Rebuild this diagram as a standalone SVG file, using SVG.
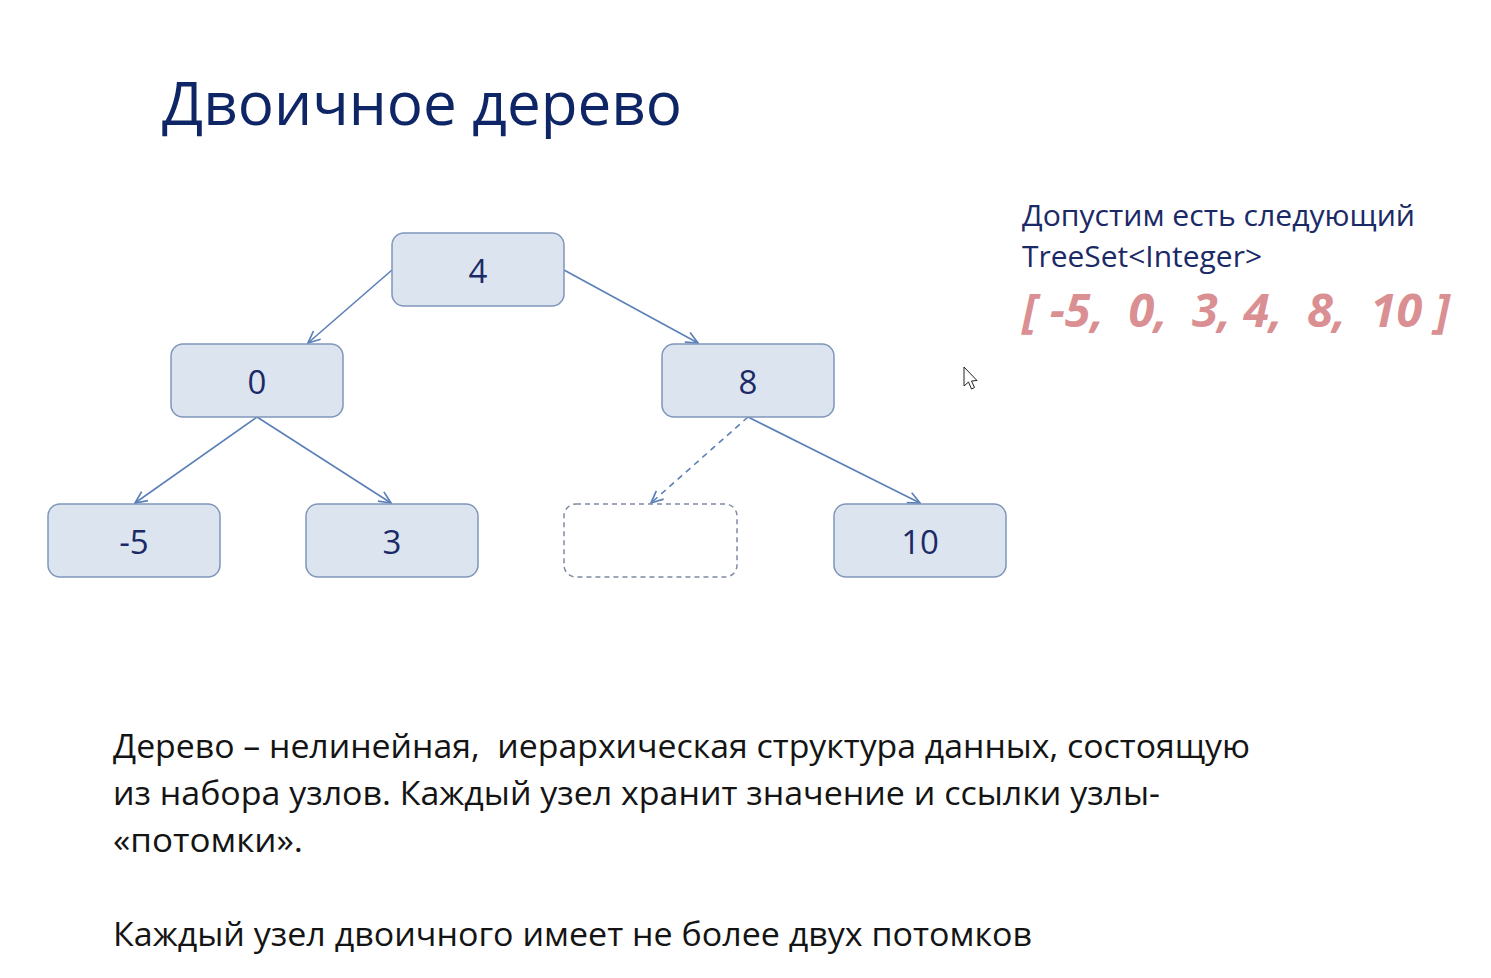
<svg xmlns="http://www.w3.org/2000/svg" width="1491" height="978" viewBox="0 0 1491 978">
  <defs>
    <marker id="arrow" viewBox="0 0 14 14" refX="13" refY="7" markerWidth="14" markerHeight="14" markerUnits="userSpaceOnUse" orient="auto">
      <path d="M1,1.5 L13,7 L1,12.5" fill="none" stroke="#5b7fb8" stroke-width="1.7"/>
    </marker>
  </defs>
  <style>
    .node rect { fill: #dce4ef; stroke: #7f96bb; stroke-width: 1.5; }
    .node.empty rect { fill: none; stroke: #7d8aa3; stroke-dasharray: 5 4; }
    .node text { font-family: "Open Sans", "Noto Sans", sans-serif; font-size: 33px; fill: #1b2a66; text-anchor: middle; }
    .edge { fill: none; stroke: #5b7fb8; stroke-width: 1.6; marker-end: url(#arrow); }
    .edge.dashed { stroke-dasharray: 6 5; }
    .title { font-family: "Open Sans", "Noto Sans", sans-serif; font-size: 61px; font-weight: 500; fill: #0e2566; }
    .note { font-family: "Open Sans", "Noto Sans", sans-serif; font-size: 29px; font-weight: 500; fill: #1b2a66; }
    .list { font-family: "Open Sans", "Noto Sans", sans-serif; font-size: 46px; font-weight: bold; font-style: italic; fill: #da8f93; }
    .body { font-family: "Open Sans", "Noto Sans", sans-serif; font-size: 33px; font-weight: 500; fill: #141414; }
  </style>

  <rect width="1491" height="978" fill="#ffffff"/>

  <text class="title" x="162" y="125" textLength="520" lengthAdjust="spacingAndGlyphs">Двоичное дерево</text>

  <!-- connectors -->
  <g id="edges">
    <line class="edge" x1="392" y1="270" x2="308" y2="343"/>
    <line class="edge" x1="564" y1="270" x2="698" y2="343"/>
    <line class="edge" x1="257" y1="417" x2="135" y2="503"/>
    <line class="edge" x1="257" y1="417" x2="391" y2="503"/>
    <line class="edge dashed" x1="748" y1="417" x2="651" y2="503"/>
    <line class="edge" x1="748" y1="417" x2="920" y2="503"/>
  </g>

  <!-- tree nodes -->
  <g id="node-4" class="node">
    <rect x="392" y="233" width="172" height="73" rx="12"/>
    <text x="478" y="283">4</text>
  </g>
  <g id="node-0" class="node">
    <rect x="171" y="344" width="172" height="73" rx="12"/>
    <text x="257" y="394">0</text>
  </g>
  <g id="node-8" class="node">
    <rect x="662" y="344" width="172" height="73" rx="12"/>
    <text x="748" y="394">8</text>
  </g>
  <g id="node-m5" class="node">
    <rect x="48" y="504" width="172" height="73" rx="12"/>
    <text x="134" y="554">-5</text>
  </g>
  <g id="node-3" class="node">
    <rect x="306" y="504" width="172" height="73" rx="12"/>
    <text x="392" y="554">3</text>
  </g>
  <g id="node-empty" class="node empty">
    <rect x="564" y="504" width="173" height="73" rx="12"/>
  </g>
  <g id="node-10" class="node">
    <rect x="834" y="504" width="172" height="73" rx="12"/>
    <text x="920" y="554">10</text>
  </g>

  <!-- side note -->
  <g id="note">
    <text class="note" x="1022" y="226" textLength="393" lengthAdjust="spacingAndGlyphs">Допустим есть следующий</text>
    <text class="note" x="1022" y="267" textLength="240" lengthAdjust="spacingAndGlyphs">TreeSet&lt;Integer&gt;</text>
    <text class="list" x="1022" y="327" textLength="428" lengthAdjust="spacingAndGlyphs" xml:space="preserve">[ -5,  0,  3, 4,  8,  10 ]</text>
  </g>

  <!-- pointer -->
  <path d="M964,367 L964,386 L968.5,382 L971.5,389 L974.5,387.5 L971.5,381 L977,380.5 Z" fill="#ffffff" stroke="#222222" stroke-width="1" stroke-linejoin="round"/>

  <!-- description -->
  <g id="description">
    <text class="body" x="113" y="758" textLength="1137" lengthAdjust="spacingAndGlyphs" xml:space="preserve">Дерево – нелинейная,  иерархическая структура данных, состоящую</text>
    <text class="body" x="113" y="805" textLength="1047" lengthAdjust="spacingAndGlyphs">из набора узлов. Каждый узел хранит значение и ссылки узлы-</text>
    <text class="body" x="113" y="852" textLength="190" lengthAdjust="spacingAndGlyphs">«потомки».</text>
    <text class="body" x="113" y="946" textLength="919" lengthAdjust="spacingAndGlyphs">Каждый узел двоичного имеет не более двух потомков</text>
  </g>
</svg>
